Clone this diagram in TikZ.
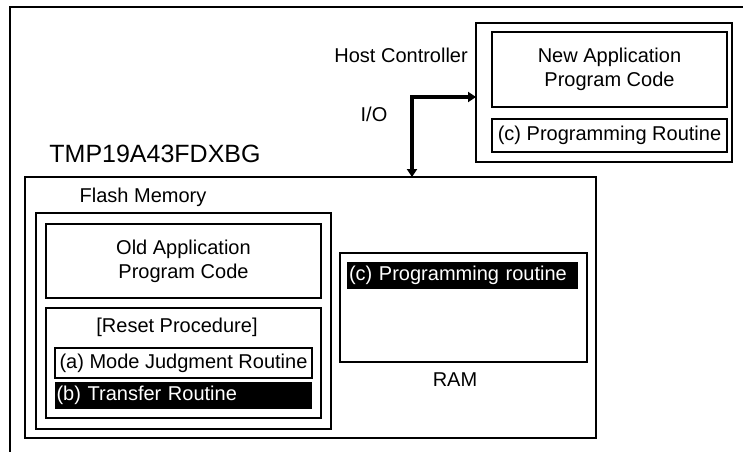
\documentclass[tikz,border=0pt]{standalone}
\usepackage{fontspec}
\setmainfont{Liberation Sans}
\usetikzlibrary{arrows.meta}
\begin{document}
\begin{tikzpicture}[x=1pt,y=-1pt,font=\fontsize{20}{24}\selectfont,
  box/.style={draw,line width=1.3pt,inner sep=0pt,outer sep=0pt,align=center},
  inv/.style={fill=black,text=white,inner sep=0pt,outer sep=0pt},
  bus/.style={line width=4pt,{Triangle[width=10pt,length=8pt]}-{Triangle[width=10pt,length=8pt]}}]
\useasboundingbox (0,0) rectangle (743,451);
\draw[line width=2.6pt] (10,452) -- (10,7) -- (744,7);

% host side
\node[box,line width=2.8pt,minimum width=256pt,minimum height=139pt] at (604,92.5)(host) {};
\node[box,minimum width=235pt,minimum height=75pt] at (609.5,69.5)(newcode) {New Application\\Program Code};
\node[box,minimum width=235pt,minimum height=33pt] at (609.5,135.5)(hostprog) {(c) Programming Routine};
\node[anchor=east,inner sep=0pt] at (468,55)(hostlabel) {Host Controller};
\node (iolabel) at (374,114) {I/O};

% target device
\node[font=\fontsize{25}{30}\selectfont] at (155,154)(chiplabel) {TMP19A43FDXBG};
\node[box,line width=1.8pt,minimum width=571pt,minimum height=261pt] at (310.5,307.5)(chip) {};
\node (flashlabel) at (143,197) {Flash Memory};
\node[box,line width=2.6pt,minimum width=295pt,minimum height=216pt] at (183.5,321)(flash) {};
\node[box,minimum width=275pt,minimum height=74pt] at (183.5,261)(oldcode) {Old Application\\Program Code};
\node[box,minimum width=275pt,minimum height=110pt] at (183.5,363)(reset) {};
\node (resetlabel) at (177,327) {[Reset Procedure]};
\node[box,minimum width=257pt,minimum height=30pt] at (183.5,363)(judge) {(a) Mode Judgment Routine};
\node[inv,minimum height=27pt,text width=254pt,inner xsep=1.5pt,align=left] at (183.5,395.5)(transfer) {(b) Transfer Routine};
\node[box,line width=2pt,minimum width=247pt,minimum height=109pt] at (463.5,307.5)(ram) {};
\node[inv,minimum height=27pt,text width=227pt,inner xsep=2pt,align=left] at (462.5,275.5)(ramprog) {(c) Programming routine};
\node (ramlabel) at (455,380) {RAM};

% I/O link
\coordinate (io) at (412,97);
\draw[bus] (io |- chip.north) -- (io) -- (io -| host.west);

\end{tikzpicture}
\end{document}
